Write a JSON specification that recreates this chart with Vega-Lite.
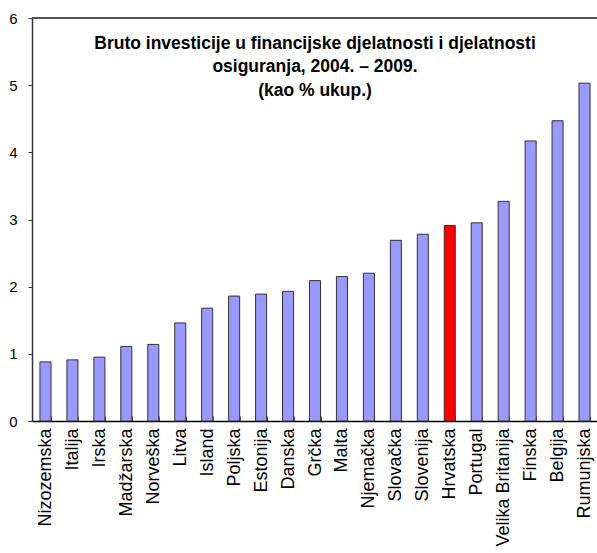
{
  "$schema": "https://vega.github.io/schema/vega-lite/v6.json",
  "autosize": "none",
  "width": 566,
  "height": 403,
  "padding": {"left": 32, "top": 18, "right": 0, "bottom": 132},
  "background": "white",
  "config": {
    "view": {"stroke": null},
    "font": "Liberation Sans",
    "axis": {"grid": false, "labelFont": "Liberation Sans", "labelColor": "black"}
  },
  "title": {
    "text": ["Bruto investicije u financijske djelatnosti i djelatnosti", "osiguranja, 2004. – 2009.", "(kao % ukup.)"],
    "anchor": "middle",
    "frame": "group",
    "orient": "top",
    "baseline": "top",
    "offset": -88,
    "font": "Liberation Sans",
    "fontSize": 17.5,
    "fontWeight": "bold",
    "lineHeight": 23.5,
    "color": "black"
  },
  "data": {
    "values": [
      {"zemlja": "Nizozemska", "vrijednost": 0.88, "hr": "ne"},
      {"zemlja": "Italija", "vrijednost": 0.91, "hr": "ne"},
      {"zemlja": "Irska", "vrijednost": 0.95, "hr": "ne"},
      {"zemlja": "Madžarska", "vrijednost": 1.11, "hr": "ne"},
      {"zemlja": "Norveška", "vrijednost": 1.14, "hr": "ne"},
      {"zemlja": "Litva", "vrijednost": 1.46, "hr": "ne"},
      {"zemlja": "Island", "vrijednost": 1.68, "hr": "ne"},
      {"zemlja": "Poljska", "vrijednost": 1.86, "hr": "ne"},
      {"zemlja": "Estonija", "vrijednost": 1.89, "hr": "ne"},
      {"zemlja": "Danska", "vrijednost": 1.93, "hr": "ne"},
      {"zemlja": "Grčka", "vrijednost": 2.09, "hr": "ne"},
      {"zemlja": "Malta", "vrijednost": 2.15, "hr": "ne"},
      {"zemlja": "Njemačka", "vrijednost": 2.2, "hr": "ne"},
      {"zemlja": "Slovačka", "vrijednost": 2.69, "hr": "ne"},
      {"zemlja": "Slovenija", "vrijednost": 2.78, "hr": "ne"},
      {"zemlja": "Hrvatska", "vrijednost": 2.91, "hr": "da"},
      {"zemlja": "Portugal", "vrijednost": 2.95, "hr": "ne"},
      {"zemlja": "Velika Britanija", "vrijednost": 3.27, "hr": "ne"},
      {"zemlja": "Finska", "vrijednost": 4.17, "hr": "ne"},
      {"zemlja": "Belgija", "vrijednost": 4.47, "hr": "ne"},
      {"zemlja": "Rumunjska", "vrijednost": 5.03, "hr": "ne"}
    ]
  },
  "layer": [
    {
      "mark": {"type": "bar", "stroke": "#333333", "strokeWidth": 1},
      "encoding": {
        "x": {
          "field": "zemlja",
          "type": "nominal",
          "sort": null,
          "scale": {"paddingInner": 0.59, "paddingOuter": 0.295},
          "axis": {
            "title": null,
            "labelAngle": -90,
            "labelFontSize": 18,
            "labelPadding": 12,
            "tickBand": "extent",
            "tickSize": -5,
            "tickColor": "#555555",
            "domainColor": "black",
            "domainWidth": 1.5
          }
        },
        "y": {
          "field": "vrijednost",
          "type": "quantitative",
          "scale": {"domain": [0, 6], "nice": false},
          "axis": {
            "title": null,
            "values": [0, 1, 2, 3, 4, 5, 6],
            "format": "d",
            "labelFontSize": 15,
            "labelPadding": 11,
            "tickSize": 4,
            "tickColor": "#333333",
            "domainColor": "#333333",
            "domainWidth": 1.5
          }
        },
        "fill": {
          "field": "hr",
          "type": "nominal",
          "scale": {"domain": ["ne", "da"], "range": ["#9999FF", "#FF0000"]},
          "legend": null
        }
      }
    },
    {
      "mark": {"type": "rule", "color": "#555555", "strokeWidth": 1.5},
      "encoding": {"y": {"datum": 6}}
    }
  ]
}
